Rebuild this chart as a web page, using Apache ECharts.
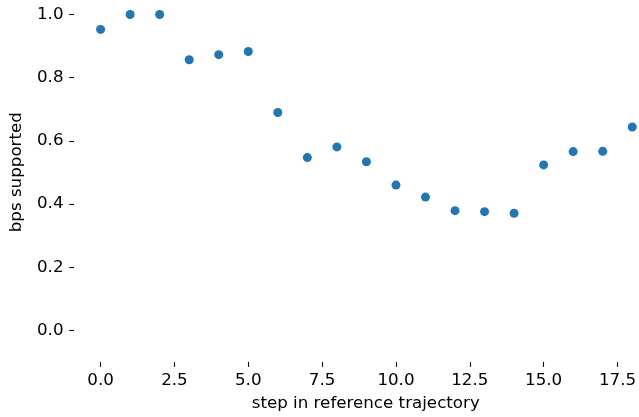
<!DOCTYPE html>
<html>
<head>
<meta charset="utf-8">
<script src="https://cdn.jsdelivr.net/npm/echarts@6/dist/echarts.min.js"></script>
<style>
html,body{margin:0;padding:0;background:#fff;}
#c{width:639px;height:417px;}
</style>
</head>
<body>
<div id="c"></div>
<script>
var steps = [0,1,2,3,4,5,6,7,8,9,10,11,12,13,14,15,16,17,18];
var bpsSupported = [0.953,1.0,1.0,0.857,0.873,0.883,0.690,0.547,0.581,0.534,0.460,0.422,0.379,0.376,0.371,0.524,0.566,0.567,0.644];
var xTickValues = [0,2.5,5,7.5,10,12.5,15,17.5];
var yTickValues = [0,0.2,0.4,0.6,0.8,1.0];
var xRange = [-0.9, 18.225];
var yRange = [-0.1, 1.046];

var points = steps.map(function(s,i){return [s,bpsSupported[i]];});
var font = '"DejaVu Sans", sans-serif';
var fs = 16.7;
var chart = echarts.init(document.getElementById('c'), null, {renderer:'canvas'});
chart.setOption({
  animation:false,
  backgroundColor:'#fff',
  grid:{left:72.3, top:0, right:0, bottom:52.7, containLabel:false},
  xAxis:{
    type:'value', min:xRange[0], max:xRange[1],
    name:'step in reference trajectory', nameLocation:'middle', nameGap:33,
    nameTextStyle:{fontFamily:font, fontSize:fs, color:'#000', padding:[0,0,0,18.6]},
    axisLine:{show:false, onZero:false},
    axisTick:{show:true, length:4.8, customValues:xTickValues, lineStyle:{color:'#000', width:1.1}},
    axisLabel:{fontFamily:font, fontSize:fs, color:'#000', margin:10, customValues:xTickValues,
      formatter:function(v){return v.toFixed(1);}},
    splitLine:{show:false}
  },
  yAxis:{
    type:'value', min:yRange[0], max:yRange[1],
    name:'bps supported', nameLocation:'middle', nameGap:49,
    nameTextStyle:{fontFamily:font, fontSize:fs, color:'#000', padding:[0,0,0,17.6]},
    axisLine:{show:false, onZero:false},
    axisTick:{show:true, length:4.8, customValues:yTickValues, lineStyle:{color:'#000', width:1.1}},
    axisLabel:{fontFamily:font, fontSize:fs, color:'#000', margin:10.5, customValues:yTickValues,
      formatter:function(v){return v.toFixed(1);}},
    splitLine:{show:false}
  },
  series:[{
    type:'scatter', data:points, symbolSize:9, clip:false,
    itemStyle:{color:'#1f77b4', opacity:1}
  }]
});
</script>
</body>
</html>
